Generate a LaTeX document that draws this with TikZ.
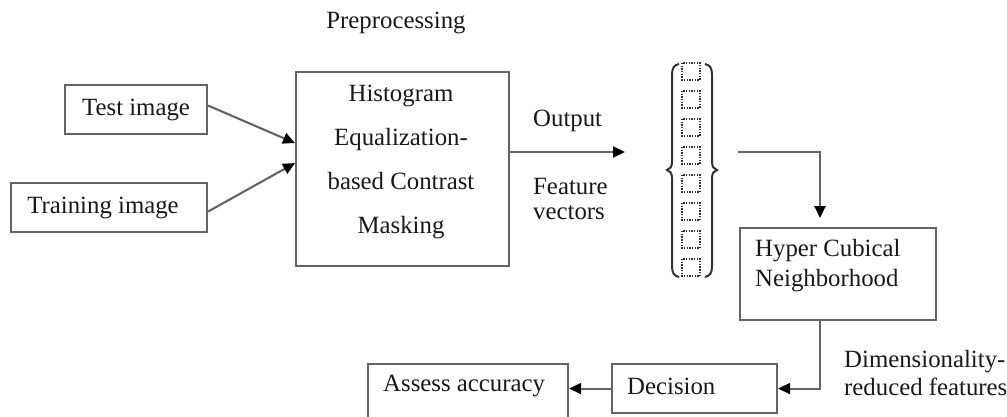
\documentclass[tikz,border=0pt]{standalone}
\usepackage{fontspec}
\setmainfont{Liberation Serif}
\usetikzlibrary{arrows.meta,calc}
\definecolor{ln}{RGB}{100,100,100}
\definecolor{tx}{RGB}{25,25,25}
\definecolor{br}{RGB}{50,50,50}
\begin{document}
\begin{tikzpicture}[x=1pt,y=-1pt,
  font=\fontsize{24.8}{30}\selectfont, text=tx,
  box/.style={draw=ln, line width=2.1pt, rectangle, inner sep=0pt, anchor=north west},
  txt/.style={inner sep=0pt},
  arr/.style={draw=ln, line width=2.1pt, -{Triangle[length=12pt,width=11pt,color=black]}},
  dotbox/.style={draw=br, line width=1.5pt, dash pattern=on 1.4pt off 1.3pt},
  brace/.style={draw=br, line width=2pt}]
\clip (0,0) rectangle (1007,417);
\fill[white] (0,0) rectangle (1007,417);

% boxes
\node[box, minimum width=142pt, minimum height=49pt] (test) at (64,84) {Test image};
\node[box, minimum width=196pt, minimum height=49pt] (train) at (10,182) {Training image\hspace*{12pt}};
\node[box, minimum width=213pt, minimum height=194pt] (main) at (295,71) {};
\node[txt, align=center, font=\fontsize{24.8}{43.7}\selectfont] (maintext) at (401,162)
  {Histogram\\Equalization-\\based Contrast\\Masking};
\node[box, minimum width=196pt, minimum height=92pt] (hyper) at (739,227) {};
\node[txt, align=left, anchor=west] (hypertext) at (755,266) {Hyper Cubical\\Neighborhood};
\node[box, minimum width=165pt, minimum height=49pt] (dec) at (611,363) {};
\node[txt, anchor=west] (dectext) at (627,386) {Decision};
\node[box, minimum width=200pt, minimum height=80pt] (assess) at (367,363) {};
\node[txt, anchor=west] (assesstext) at (383,386) {Assess accuracy};

% labels
\node[txt] (pre) at (396,23) {Preprocessing};
\node[txt, anchor=west] (outlbl) at (533,121) {Output};
\node[txt, anchor=west, align=left, font=\fontsize{24.8}{25}\selectfont] (fvlbl) at (533,199) {Feature\\vectors};
\node[txt, anchor=west, align=left, font=\fontsize{24.8}{28}\selectfont] (drlbl) at (844,373) {Dimensionality-\\reduced features};

% feature vector column
\node[inner sep=0pt, minimum width=51pt, minimum height=215pt] (vec) at (692.5,170.5) {};
\foreach \k in {0,...,7} {
  \draw[dotbox] (682,{63+28*\k}) rectangle (700,{80+28*\k});
}
\draw[brace] (679,64) .. controls (674,65) and (672,68) .. (672,75) -- (672,162)
  .. controls (672,167) and (670,169) .. (667,170)
  .. controls (670,171) and (672,173) .. (672,178) -- (672,266)
  .. controls (672,273) and (674,276) .. (679,277);
\draw[brace] (705,64) .. controls (710,65) and (712,68) .. (712,75) -- (712,162)
  .. controls (712,167) and (714,169) .. (717,170)
  .. controls (714,171) and (712,173) .. (712,178) -- (712,266)
  .. controls (712,273) and (710,276) .. (705,277);

% connectors
\coordinate (vin) at (625,152);
\coordinate (vout) at (738,152);
\coordinate (turn) at (820,152);
\draw[arr] ($(test.east)+(0,-4)$) -- ($(main.west)+(0,-26)$);
\draw[arr] ($(train.east)+(0,4)$) -- ($(main.west)+(0,-6)$);
\draw[arr] (main.east |- vin) -- (vin);
\draw[arr] (vout) -- (turn) -- ($(turn |- hyper.north)+(0,-9)$);
\draw[arr] (hyper.south -| turn) |- (dec.east);
\draw[arr] (dec.west) -- (dec.west -| assess.east);
\end{tikzpicture}
\end{document}
